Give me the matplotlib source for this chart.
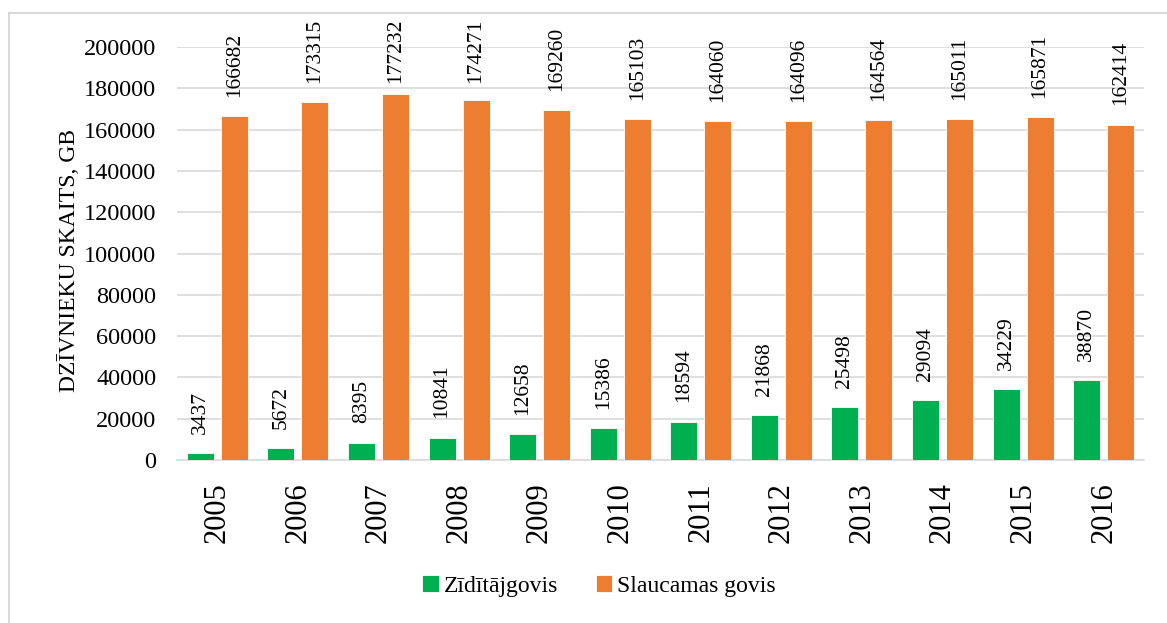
import matplotlib.pyplot as plt
import numpy as np
from matplotlib.patches import Rectangle

plt.rcParams['font.family'] = ['Liberation Serif', 'DejaVu Serif']

years = ['2005', '2006', '2007', '2008', '2009', '2010',
         '2011', '2012', '2013', '2014', '2015', '2016']
zidit = [3437, 5672, 8395, 10841, 12658, 15386, 18594, 21868, 25498, 29094, 34229, 38870]
slauc = [166682, 173315, 177232, 174271, 169260, 165103, 164060, 164096, 164564, 165011, 165871, 162414]

green = '#00B050'
orange = '#ED7D31'

fig = plt.figure(figsize=(11.67, 6.23), dpi=100)
ax = fig.add_axes([177/1167, 1 - 460/623, (1144 - 177)/1167, (460 - 47)/623])

x = np.arange(len(years))
w = 0.335
off = 0.211
ax.bar(x - off, zidit, w, color=green, edgecolor='white', linewidth=0.6, label='Zīdītājgovis', zorder=3)
ax.bar(x + off, slauc, w, color=orange, edgecolor='white', linewidth=0.6, label='Slaucamas govis', zorder=3)

# labels above bars, pulled down when they'd run out of the chart area
pad = 9300
cap = 182500
for xi, v in zip(x - off, zidit):
    ax.text(xi, min(v + pad, cap), str(v), rotation=90, ha='center', va='bottom',
            fontsize=15.5, clip_on=False)
for xi, v in zip(x + off, slauc):
    ax.text(xi, min(v + pad, cap), str(v), rotation=90, ha='center', va='bottom',
            fontsize=15.5, clip_on=False)

ax.set_xlim(-0.5, len(years) - 0.5)
ax.set_ylim(0, 200000)
ax.set_yticks(np.arange(0, 200001, 20000))
ax.set_xticks(x)
ax.set_xticklabels(years, rotation=90, fontsize=22)
ax.tick_params(axis='y', labelsize=17.5, length=0, pad=15)
ax.tick_params(axis='x', length=0, pad=16)
ax.grid(axis='y', color='#D9D9D9', linewidth=1.2, zorder=0)
for s in ['top', 'right', 'left']:
    ax.spines[s].set_visible(False)
ax.spines['bottom'].set_color('#D9D9D9')
ax.spines['bottom'].set_linewidth(1.2)

fig.text(69/1167, 1 - 261/623, 'DZĪVNIEKU SKAITS, GB', rotation=90, ha='center', va='center',
         fontsize=17)

fig.legend(loc='center', bbox_to_anchor=(599/1167, 1 - 586/623), ncol=2, frameon=False,
           fontsize=17, handlelength=0.7, handleheight=0.7, handletextpad=0.2, columnspacing=1.6)

fig.add_artist(Rectangle((9/1167, -0.5), 1.5, 1.5 - 13/623, transform=fig.transFigure,
                         fill=False, edgecolor='#D9D9D9', linewidth=1.5))

fig.savefig('out.png', dpi=100)
